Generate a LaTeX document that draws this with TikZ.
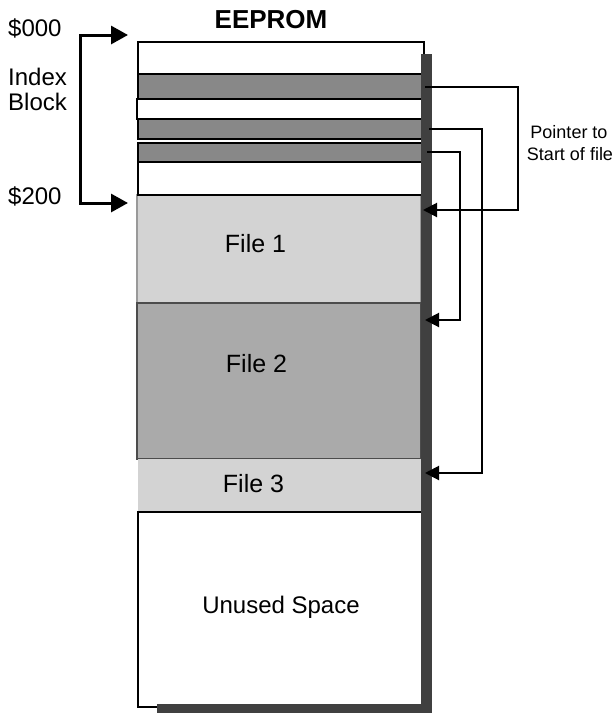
\documentclass[tikz,border=0pt]{standalone}
\usepackage{fontspec}
\setmainfont{Liberation Sans}
\usetikzlibrary{arrows.meta}
\definecolor{idxgray}{HTML}{888888}
\definecolor{filelight}{HTML}{D3D3D3}
\definecolor{filemid}{HTML}{AAAAAA}
\definecolor{shadowc}{HTML}{404040}
\tikzset{
  row/.style={draw=black, line width=2pt, anchor=north west, inner sep=0pt, outer sep=0pt, minimum width=#1},
  row/.default=286pt,
  filebox/.style={anchor=north west, inner sep=0pt, outer sep=0pt, minimum width=284pt},
  lbl/.style={inner sep=0pt, font=\fontsize{24}{24}\selectfont},
  flbl/.style={inner sep=0pt, font=\fontsize{25}{25}\selectfont},
  ptr/.style={line width=2pt, -{Triangle[length=14pt,width=14pt]}},
  brk/.style={line width=3pt, {Triangle[length=17pt,width=18pt]}-{Triangle[length=17pt,width=18pt]}},
}
\begin{document}
\begin{tikzpicture}[x=1pt,y=-1pt]
\useasboundingbox (0,0) rectangle (616,713);
% file areas
\node[filebox, fill=filelight, draw=gray!80, line width=1.5pt, minimum height=108pt] (file1) at (137,195) {};
\node[filebox, fill=filemid, draw=gray!60!black, line width=1.5pt, minimum height=156pt] (file2) at (137,303) {};
\node[filebox, fill=filelight, draw=filelight, line width=1pt, minimum height=53pt] (file3) at (138,459) {};
\node[row, fill=white, minimum height=195pt] (unused) at (138,512) {};
% index block rows
\node[row, fill=white, minimum height=32pt] (w1) at (138,42) {};
\node[row, fill=idxgray, minimum height=25pt] (g1) at (138,74) {};
\node[row=287pt, fill=white, minimum height=20pt] (w2) at (137,99) {};
\node[row, fill=idxgray, minimum height=20pt] (g2) at (138,119) {};
\node[row, fill=idxgray, minimum height=19pt] (g3) at (138,142.5) {};
\node[row, fill=white, minimum height=33.5pt] (w3) at (138,161.5) {};
% shadow
\fill[shadowc] (421,54) rectangle (432,713);
\fill[shadowc] (157,704) rectangle (432,713);
% texts
\node[inner sep=0pt, font=\fontsize{26}{26}\selectfont\bfseries, anchor=base] (title) at (271,28) {EEPROM};
\node[lbl, anchor=base west] (a000) at (8,36) {\$000};
\node[lbl, anchor=base west] (idx1) at (8,85) {Index};
\node[lbl, anchor=base west] (idx2) at (8,110) {Block};
\node[lbl, anchor=base west] (a200) at (8,204) {\$200};
\node[flbl, anchor=base] (t1) at (255.5,252) {File 1};
\node[flbl, anchor=base] (t2) at (256.5,372) {File 2};
\node[flbl, anchor=base] (t3) at (253.5,492) {File 3};
\node[lbl, anchor=base] (t4) at (281,613) {Unused Space};
\node[inner sep=0pt, font=\fontsize{18}{18}\selectfont, anchor=base] (p1) at (569,138) {Pointer to};
\node[inner sep=0pt, font=\fontsize{18}{18}\selectfont, anchor=base] (p2) at (570,160) {Start of file};
% bracket
\coordinate (bt) at (128,35);
\coordinate (bb) at (128,203);
\draw[brk] (bt) -- (80,35) -- (80,203) -- (bb);
% pointers
\draw[ptr] ([xshift=1pt]g1.east) -- (518,86.5) |- ([xshift=2pt,yshift=-15pt]file1.north east);
\draw[ptr] ([xshift=5pt]g2.east) -- (482,129) |- ([xshift=3pt,yshift=-14pt]file3.north east);
\draw[ptr] ([xshift=3pt]g3.east) -- (460,152) |- ([xshift=4pt,yshift=-17pt]file2.north east);
\end{tikzpicture}
\end{document}
